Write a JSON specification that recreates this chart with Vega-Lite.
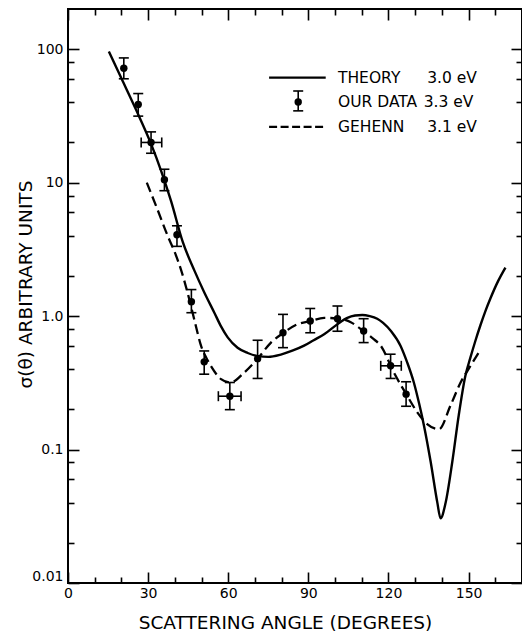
{
  "$schema": "https://vega.github.io/schema/vega-lite/v6.json",
  "width": 454,
  "height": 574,
  "autosize": {"type": "none"},
  "padding": {"left": 68, "top": 9, "right": 0, "bottom": 51},
  "background": "white",
  "datasets": {
    "theory": [
      {"angle": 15.3, "sigma": 96}, {"angle": 19.9, "sigma": 61}, {"angle": 25.5, "sigma": 35.1},
      {"angle": 31.1, "sigma": 19.5}, {"angle": 34.9, "sigma": 12.2}, {"angle": 38.6, "sigma": 7.27},
      {"angle": 43, "sigma": 3.58}, {"angle": 47.3, "sigma": 2.2}, {"angle": 51, "sigma": 1.51},
      {"angle": 54.8, "sigma": 1.06}, {"angle": 57.3, "sigma": 0.837}, {"angle": 59.8, "sigma": 0.692},
      {"angle": 63.5, "sigma": 0.579}, {"angle": 67.3, "sigma": 0.529}, {"angle": 71, "sigma": 0.501},
      {"angle": 75, "sigma": 0.495}, {"angle": 79.7, "sigma": 0.515}, {"angle": 84, "sigma": 0.55},
      {"angle": 88.4, "sigma": 0.6}, {"angle": 92, "sigma": 0.66}, {"angle": 95.9, "sigma": 0.73},
      {"angle": 100.9, "sigma": 0.87}, {"angle": 104.6, "sigma": 0.97}, {"angle": 107.5, "sigma": 1.01},
      {"angle": 110.2, "sigma": 1.02}, {"angle": 113, "sigma": 1.0}, {"angle": 115.8, "sigma": 0.955},
      {"angle": 118, "sigma": 0.89}, {"angle": 121, "sigma": 0.77}, {"angle": 124.5, "sigma": 0.6},
      {"angle": 127, "sigma": 0.45}, {"angle": 129.5, "sigma": 0.318}, {"angle": 131.5, "sigma": 0.22},
      {"angle": 133.3, "sigma": 0.151}, {"angle": 135.8, "sigma": 0.081}, {"angle": 138.3, "sigma": 0.04},
      {"angle": 139.5, "sigma": 0.0305}, {"angle": 141.4, "sigma": 0.04}, {"angle": 143.9, "sigma": 0.081},
      {"angle": 146.3, "sigma": 0.18}, {"angle": 148.8, "sigma": 0.357}, {"angle": 150.7, "sigma": 0.49},
      {"angle": 152.5, "sigma": 0.648}, {"angle": 154.4, "sigma": 0.85}, {"angle": 156.3, "sigma": 1.09},
      {"angle": 158.2, "sigma": 1.36}, {"angle": 161, "sigma": 1.82}, {"angle": 163.8, "sigma": 2.31}
    ],
    "gehenn": [
      {"angle": 29.5, "sigma": 10}, {"angle": 33.5, "sigma": 6.3}, {"angle": 37.4, "sigma": 3.96},
      {"angle": 40, "sigma": 3.0}, {"angle": 42.3, "sigma": 2.23}, {"angle": 44.8, "sigma": 1.49},
      {"angle": 47.9, "sigma": 0.84}, {"angle": 49.8, "sigma": 0.6}, {"angle": 51.5, "sigma": 0.5},
      {"angle": 53.6, "sigma": 0.42}, {"angle": 57.3, "sigma": 0.337}, {"angle": 60.8, "sigma": 0.318},
      {"angle": 66, "sigma": 0.378}, {"angle": 71, "sigma": 0.48}, {"angle": 76, "sigma": 0.633},
      {"angle": 80.7, "sigma": 0.75}, {"angle": 86, "sigma": 0.87}, {"angle": 90.9, "sigma": 0.92},
      {"angle": 95.9, "sigma": 0.97}, {"angle": 100.9, "sigma": 0.96}, {"angle": 105.9, "sigma": 0.9},
      {"angle": 110.6, "sigma": 0.773}, {"angle": 114.6, "sigma": 0.67}, {"angle": 117.1, "sigma": 0.6},
      {"angle": 122, "sigma": 0.378}, {"angle": 127, "sigma": 0.253}, {"angle": 130.8, "sigma": 0.19},
      {"angle": 134.5, "sigma": 0.155}, {"angle": 138.9, "sigma": 0.142}, {"angle": 143.2, "sigma": 0.213},
      {"angle": 147, "sigma": 0.318}, {"angle": 150.7, "sigma": 0.423}, {"angle": 154.2, "sigma": 0.548}
    ],
    "points": [
      {"angle": 20.9, "sigma": 72, "lo": 60, "hi": 86},
      {"angle": 26.3, "sigma": 38.5, "lo": 31.5, "hi": 46.5},
      {"angle": 31.1, "sigma": 20, "lo": 16.6, "hi": 24, "xlo": 27.4, "xhi": 35.1},
      {"angle": 36.1, "sigma": 10.5, "lo": 8.7, "hi": 12.6},
      {"angle": 40.8, "sigma": 4.07, "lo": 3.33, "hi": 4.75},
      {"angle": 46.2, "sigma": 1.28, "lo": 1.06, "hi": 1.58},
      {"angle": 51.0, "sigma": 0.454, "lo": 0.367, "hi": 0.548},
      {"angle": 60.6, "sigma": 0.251, "lo": 0.199, "hi": 0.318, "xlo": 56.3, "xhi": 64.8},
      {"angle": 71.0, "sigma": 0.48, "lo": 0.341, "hi": 0.659},
      {"angle": 80.5, "sigma": 0.75, "lo": 0.58, "hi": 1.03},
      {"angle": 90.7, "sigma": 0.918, "lo": 0.75, "hi": 1.14},
      {"angle": 100.9, "sigma": 0.956, "lo": 0.77, "hi": 1.19},
      {"angle": 110.7, "sigma": 0.773, "lo": 0.633, "hi": 0.956},
      {"angle": 120.8, "sigma": 0.424, "lo": 0.341, "hi": 0.518, "xlo": 117.1, "xhi": 124.8},
      {"angle": 126.6, "sigma": 0.26, "lo": 0.211, "hi": 0.322},
      {"angle": 86.2, "sigma": 40.2, "lo": 34.5, "hi": 48.6}
    ],
    "legendLines": [
      {"angle": 75.3, "angle2": 96.5, "sigma": 61.2, "style": "solid"},
      {"angle": 75.3, "angle2": 96.5, "sigma": 26.2, "style": "dashed"}
    ],
    "legendText": [
      {"angle": 101.1, "sigma": 61.2, "text": "THEORY"},
      {"angle": 134.5, "sigma": 61.2, "text": "3.0 eV"},
      {"angle": 101.1, "sigma": 40.2, "text": "OUR DATA"},
      {"angle": 133.2, "sigma": 40.2, "text": "3.3 eV"},
      {"angle": 101.1, "sigma": 26.2, "text": "GEHENN"},
      {"angle": 134.5, "sigma": 26.2, "text": "3.1 eV"}
    ]
  },
  "layer": [
    {
      "data": {"name": "theory"},
      "mark": {"type": "line", "color": "black", "strokeWidth": 2.4, "interpolate": "monotone"},
      "encoding": {
        "x": {"field": "angle", "type": "quantitative", "scale": {"domain": [0, 170], "nice": false, "zero": false},
          "axis": {"orient": "bottom", "values": [0, 30, 60, 90, 120, 150], "tickSize": -11, "labelPadding": 14, "labelFontSize": 14, "labelFlush": false,
            "title": "SCATTERING ANGLE (DEGREES)", "titleFontSize": 18.5, "titleX": 217, "titleY": 39, "titleBaseline": "middle", "titleAlign": "center"}},
        "y": {"field": "sigma", "type": "quantitative", "scale": {"type": "log", "domain": [0.01, 200], "nice": false},
          "axis": {"orient": "left", "values": [0.01, 0.1, 1, 10, 100], "tickSize": -11, "labelPadding": 16, "labelFontSize": 14, "labelFlush": true,
            "labelExpr": "datum.value == 1 ? '1.0' : (datum.value >= 10 ? format(datum.value, 'd') : toString(datum.value))",
            "title": "σ(θ) ARBITRARY UNITS", "titleFontSize": 18.5, "titleAngle": -90, "titleX": -43, "titleY": 275, "titleBaseline": "middle", "titleAlign": "center"}}
      }
    },
    {
      "data": {"name": "gehenn"},
      "mark": {"type": "line", "color": "black", "strokeWidth": 2.3, "strokeDash": [10, 5], "interpolate": "monotone"},
      "encoding": {
        "x": {"field": "angle", "type": "quantitative", "scale": {"domain": [0, 170], "nice": false, "zero": false},
          "axis": {"orient": "top", "values": [0, 30, 60, 90, 120, 150], "tickSize": -11, "labels": false, "title": null}},
        "y": {"field": "sigma", "type": "quantitative", "scale": {"type": "log", "domain": [0.01, 200], "nice": false},
          "axis": {"orient": "right", "values": [0.01, 0.1, 1, 10, 100], "tickSize": -11, "labels": false, "title": null}}
      }
    },
    {
      "data": {"name": "points"},
      "mark": {"type": "point", "filled": true, "color": "black", "size": 55, "opacity": 1},
      "encoding": {
        "x": {"field": "angle", "type": "quantitative", "scale": {"domain": [0, 170], "nice": false, "zero": false},
          "axis": {"orient": "bottom", "values": [10, 20, 40, 50, 70, 80, 100, 110, 130, 140, 160], "tickSize": -6, "labels": false, "title": null}},
        "y": {"field": "sigma", "type": "quantitative", "scale": {"type": "log", "domain": [0.01, 200], "nice": false},
          "axis": {"orient": "left", "values": [0.02, 0.04, 0.06, 0.08, 0.2, 0.4, 0.6, 0.8, 2, 4, 6, 8, 20, 40, 60, 80], "tickSize": -6, "labels": false, "title": null}}
      }
    },
    {
      "data": {"name": "points"},
      "mark": {"type": "rule", "color": "black", "strokeWidth": 1.6},
      "encoding": {
        "x": {"field": "angle", "type": "quantitative", "scale": {"domain": [0, 170], "nice": false, "zero": false},
          "axis": {"orient": "top", "values": [10, 20, 40, 50, 70, 80, 100, 110, 130, 140, 160], "tickSize": -6, "labels": false, "title": null}},
        "y": {"field": "lo", "type": "quantitative", "scale": {"type": "log", "domain": [0.01, 200], "nice": false},
          "axis": {"orient": "right", "values": [0.02, 0.04, 0.06, 0.08, 0.2, 0.4, 0.6, 0.8, 2, 4, 6, 8, 20, 40, 60, 80], "tickSize": -6, "labels": false, "title": null}},
        "y2": {"field": "hi"}
      }
    },
    {
      "data": {"name": "points"},
      "mark": {"type": "tick", "orient": "horizontal", "size": 10, "thickness": 1.6, "color": "black", "opacity": 1},
      "encoding": {
        "x": {"field": "angle", "type": "quantitative", "scale": {"domain": [0, 170], "nice": false, "zero": false}, "axis": null},
        "y": {"field": "lo", "type": "quantitative", "scale": {"type": "log", "domain": [0.01, 200], "nice": false}, "axis": null}
      }
    },
    {
      "data": {"name": "points"},
      "mark": {"type": "tick", "orient": "horizontal", "size": 10, "thickness": 1.6, "color": "black", "opacity": 1},
      "encoding": {
        "x": {"field": "angle", "type": "quantitative", "scale": {"domain": [0, 170], "nice": false, "zero": false}, "axis": null},
        "y": {"field": "hi", "type": "quantitative", "scale": {"type": "log", "domain": [0.01, 200], "nice": false}, "axis": null}
      }
    },
    {
      "data": {"name": "points"},
      "transform": [{"filter": "isValid(datum.xlo)"}],
      "mark": {"type": "rule", "color": "black", "strokeWidth": 1.6},
      "encoding": {
        "x": {"field": "xlo", "type": "quantitative", "scale": {"domain": [0, 170], "nice": false, "zero": false}, "axis": null},
        "x2": {"field": "xhi"},
        "y": {"field": "sigma", "type": "quantitative", "scale": {"type": "log", "domain": [0.01, 200], "nice": false}, "axis": null}
      }
    },
    {
      "data": {"name": "points"},
      "transform": [{"filter": "isValid(datum.xlo)"}],
      "mark": {"type": "tick", "orient": "vertical", "size": 10, "thickness": 1.6, "color": "black", "opacity": 1},
      "encoding": {
        "x": {"field": "xlo", "type": "quantitative", "scale": {"domain": [0, 170], "nice": false, "zero": false}, "axis": null},
        "y": {"field": "sigma", "type": "quantitative", "scale": {"type": "log", "domain": [0.01, 200], "nice": false}, "axis": null}
      }
    },
    {
      "data": {"name": "points"},
      "transform": [{"filter": "isValid(datum.xhi)"}],
      "mark": {"type": "tick", "orient": "vertical", "size": 10, "thickness": 1.6, "color": "black", "opacity": 1},
      "encoding": {
        "x": {"field": "xhi", "type": "quantitative", "scale": {"domain": [0, 170], "nice": false, "zero": false}, "axis": null},
        "y": {"field": "sigma", "type": "quantitative", "scale": {"type": "log", "domain": [0.01, 200], "nice": false}, "axis": null}
      }
    },
    {
      "data": {"name": "legendLines"},
      "mark": {"type": "rule", "color": "black", "strokeWidth": 2.3},
      "encoding": {
        "x": {"field": "angle", "type": "quantitative", "scale": {"domain": [0, 170], "nice": false, "zero": false}, "axis": null},
        "x2": {"field": "angle2"},
        "y": {"field": "sigma", "type": "quantitative", "scale": {"type": "log", "domain": [0.01, 200], "nice": false}, "axis": null},
        "strokeDash": {"field": "style", "type": "nominal", "scale": {"domain": ["solid", "dashed"], "range": [[1, 0], [8, 3.5]]}, "legend": null}
      }
    },
    {
      "data": {"name": "legendText"},
      "mark": {"type": "text", "align": "left", "baseline": "middle", "font": "DejaVu Sans", "fontSize": 15.5, "color": "black"},
      "encoding": {
        "x": {"field": "angle", "type": "quantitative", "scale": {"domain": [0, 170], "nice": false, "zero": false}, "axis": null},
        "y": {"field": "sigma", "type": "quantitative", "scale": {"type": "log", "domain": [0.01, 200], "nice": false}, "axis": null},
        "text": {"field": "text"}
      }
    }
  ],
  "resolve": {"axis": {"x": "independent", "y": "independent"}},
  "config": {
    "view": {"stroke": "black", "strokeWidth": 2},
    "axis": {
      "grid": false, "domain": false, "tickColor": "black", "tickWidth": 1.6,
      "labelColor": "black", "titleColor": "black",
      "labelFont": "DejaVu Sans", "titleFont": "DejaVu Sans", "titleFontWeight": "normal"
    }
  }
}
